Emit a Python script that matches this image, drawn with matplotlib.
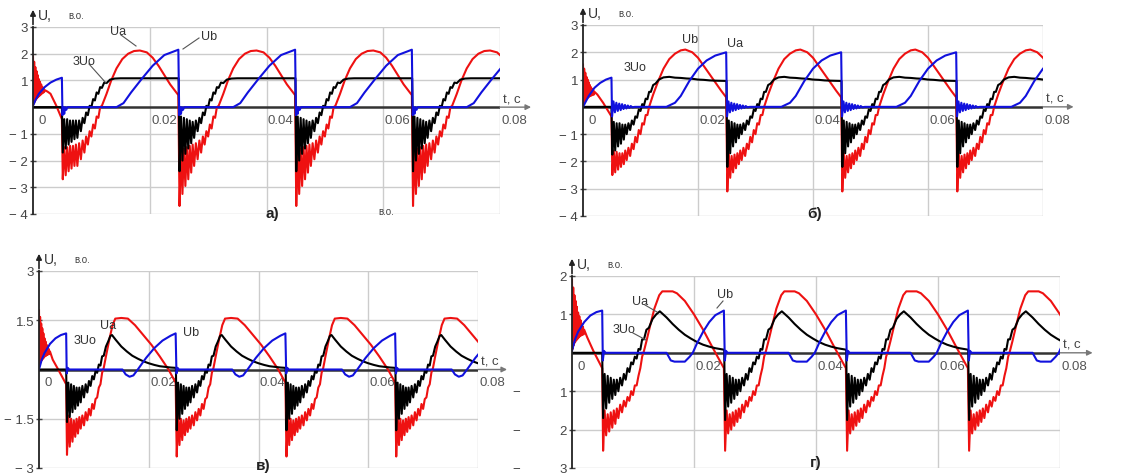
import numpy as np
import matplotlib.pyplot as plt
from matplotlib.lines import Line2D

plt.rcParams['font.family'] = ['Liberation Sans', 'DejaVu Sans']

W, H = 1125, 477

# switching instants (ms); each period is 20 ms long
DROPS_MS = [5.0, 25.0, 45.0, 65.0]
# times (ms after a switching) of the oscillation tips: low, high, low, high ...
TIP_MS = [0.1, 0.35, 0.6, 0.85, 1.1, 1.35, 1.6, 1.85, 2.1, 2.35,
          2.6, 2.9, 3.2, 3.5, 3.8, 4.1, 4.4, 4.7, 5.0, 5.3]
# times (ms) of the initial high-frequency transient of Ua
START_MS = [0.0, 0.1, 0.2, 0.3, 0.4, 0.5, 0.6, 0.7, 0.8, 0.9, 1.0,
            1.1, 1.2, 1.3, 1.4, 1.5, 1.6, 1.7, 1.8, 1.9, 2.0]
BLK_START_MS = [0.0, 4.95]
BLK_START = [0.0, 0.0]
BLUE_START_MS = [0.0, 0.5, 1.0, 2.0, 3.0, 4.0, 4.95]

# ---------- panel а) ----------
A_RED_START = [1.9, 0.12, 1.7, 0.2, 1.5, 0.28, 1.35, 0.33, 1.2, 0.38, 1.05,
               0.42, 0.95, 0.46, 0.85, 0.5, 0.76, 0.53, 0.7, 0.56, 0.64]
A_RED_TAIL_MS = [2.5, 3.0, 4.0, 4.95]
A_RED_TAIL = [0.58, 0.5, 0.05, -0.45]
A_RED_DIP = [-3.7, -1.6, -3.25, -1.55, -2.95, -1.5, -2.7, -1.45, -2.45, -1.4,
             -2.2, -1.35, -1.95, -1.25, -1.7, -1.1, -1.4, -0.9, -1.1, -0.65]
A_RED_DIP_FIRST = [-2.7, -1.5, -2.55, -1.5, -2.4, -1.45, -2.3, -1.45, -2.2, -1.4]
A_RED_REST_MS = [5.6, 5.9, 6.2, 6.5, 6.8, 7.6, 8.4, 9.3, 10.3, 11.3, 12.3,
                 13.3, 14.5, 15.5, 16.5, 17.5, 18.5, 19.9]
A_RED_REST = [-0.8, -0.35, -0.4, 0.0, 0.05, 0.5, 1.0, 1.45, 1.8, 2.0, 2.1,
              2.12, 2.05, 1.85, 1.55, 1.2, 0.85, 0.45]
A_BLK_DIP = [-2.4, -0.35, -2.0, -0.4, -1.75, -0.45, -1.55, -0.5, -1.35, -0.55,
             -1.15, -0.5, -0.9, -0.4, -0.6, -0.2, -0.3, 0.05, 0.0, 0.3]
A_BLK_DIP_FIRST = [-1.7, -0.45, -1.55, -0.45, -1.4, -0.5, -1.3, -0.5, -1.2, -0.5]
A_BLK_REST_MS = [5.6, 5.9, 6.2, 6.5, 6.8, 7.2, 7.6, 8.2, 9.0, 10.0, 19.95]
A_BLK_REST = [0.25, 0.55, 0.5, 0.75, 0.72, 0.92, 0.9, 1.03, 1.07, 1.08, 1.08]
A_BLUE_START = [0.05, 0.3, 0.5, 0.75, 0.92, 1.03, 1.1]
A_BLUE_MS = [0.05, 0.2, 0.35, 0.5, 0.7, 0.9, 9.3, 10.5, 11.8, 13.6, 15.5, 17.5, 19.9]
A_BLUE = [-0.3, 0.0, -0.25, 0.0, -0.1, 0.0, 0.0, 0.15, 0.55, 1.05, 1.55, 1.95, 2.15]

# ---------- panel б) ----------
B_RED_START = [1.55, 0.1, 1.4, 0.18, 1.25, 0.25, 1.1, 0.3, 1.0, 0.34, 0.9,
               0.38, 0.8, 0.4, 0.72, 0.42, 0.65, 0.44, 0.6, 0.45, 0.55]
B_RED_TAIL_MS = [2.5, 3.5, 4.95]
B_RED_TAIL = [0.45, 0.15, -0.35]
B_RED_DIP = [-3.1, -1.7, -2.6, -1.8, -2.4, -1.75, -2.25, -1.7, -2.1, -1.6,
             -1.95, -1.5, -1.8, -1.35, -1.55, -1.1, -1.3, -0.85, -1.0, -0.6]
B_RED_DIP_FIRST = [-2.5, -1.6, -2.4, -1.65, -2.3, -1.7, -2.2, -1.7, -2.1, -1.6]
B_RED_REST_MS = [5.6, 5.9, 6.2, 6.5, 7.2, 8.0, 9.0, 10.0, 11.0, 12.0, 12.8,
                 14.0, 15.0, 16.0, 17.0, 18.0, 19.0, 19.9]
B_RED_REST = [-0.65, -0.3, -0.3, 0.0, 0.45, 0.9, 1.4, 1.75, 1.95, 2.07, 2.1,
              2.0, 1.8, 1.5, 1.2, 0.9, 0.6, 0.35]
B_BLK_DIP = [-2.2, -0.5, -1.7, -0.55, -1.45, -0.6, -1.3, -0.65, -1.15, -0.65,
             -1.0, -0.6, -0.85, -0.5, -0.65, -0.35, -0.4, -0.1, -0.15, 0.1]
B_BLK_DIP_FIRST = [-1.75, -0.55, -1.6, -0.6, -1.45, -0.6, -1.35, -0.65, -1.2, -0.65]
B_BLK_REST_MS = [5.6, 5.9, 6.2, 6.5, 6.8, 7.2, 7.6, 8.2, 9.0, 10.0, 11.0,
                 12.0, 13.0, 14.0, 15.0, 16.0, 17.0, 18.0, 19.95]
B_BLK_REST = [0.05, 0.3, 0.28, 0.55, 0.55, 0.8, 0.85, 1.0, 1.08, 1.1, 1.07,
              1.06, 1.04, 1.03, 1.0, 0.99, 0.97, 0.96, 0.95]
B_BLUE_START = [0.0, 0.2, 0.4, 0.7, 0.88, 1.0, 1.07]
B_BLUE_MS = [0.05, 0.3, 0.55, 0.8, 1.05, 1.3, 1.55, 1.8, 2.05, 2.3, 2.55, 2.8,
             3.05, 3.3, 3.6, 4.0, 9.5, 11.0, 12.0, 13.5, 15.0, 16.5, 18.0, 19.9]
B_BLUE = [-0.35, 0.2, -0.2, 0.15, -0.15, 0.12, -0.12, 0.1, -0.08, 0.07, -0.06,
          0.05, -0.04, 0.03, -0.02, 0.0, 0.0, 0.15, 0.4, 0.95, 1.4, 1.7, 1.88, 2.0]

# ---------- panel в) ----------
V_RED_START = [1.8, 0.15, 1.6, 0.22, 1.4, 0.28, 1.25, 0.32, 1.1, 0.36, 0.95,
               0.4, 0.85, 0.42, 0.75, 0.45, 0.68, 0.46, 0.62, 0.47, 0.55]
V_RED_TAIL_MS = [2.5, 3.5, 4.95]
V_RED_TAIL = [0.3, 0.0, -0.45]
V_RED_DIP = [-2.65, -1.35, -2.3, -1.5, -2.15, -1.55, -2.0, -1.5, -1.9, -1.45,
             -1.8, -1.4, -1.7, -1.3, -1.55, -1.2, -1.4, -1.05, -1.2, -0.9]
V_RED_DIP_FIRST = [-2.6, -1.4, -2.35, -1.5, -2.2, -1.55, -2.05, -1.5, -1.95, -1.45]
V_RED_REST_MS = [5.6, 5.9, 6.2, 6.5, 6.8, 7.2, 7.8, 8.4, 8.9, 10.0, 11.2,
                 12.5, 14.0, 15.5, 17.0, 18.6, 19.9]
V_RED_REST = [-0.85, -0.55, -0.45, -0.1, 0.05, 0.4, 0.9, 1.35, 1.55, 1.57, 1.55,
              1.35, 1.05, 0.75, 0.4, 0.0, -0.4]
V_BLK_DIP = [-1.85, -0.4, -1.5, -0.45, -1.35, -0.5, -1.2, -0.55, -1.1, -0.55,
             -1.0, -0.5, -0.85, -0.45, -0.7, -0.35, -0.5, -0.2, -0.3, -0.05]
V_BLK_DIP_FIRST = [-1.6, -0.4, -1.45, -0.45, -1.3, -0.5, -1.2, -0.55, -1.1, -0.55]
V_BLK_REST_MS = [5.6, 5.9, 6.2, 6.5, 6.8, 7.2, 7.6, 8.0, 8.3, 9.0, 10.0, 11.0,
                 12.0, 13.0, 14.0, 15.0, 16.0, 17.0, 18.0, 19.0, 19.95]
V_BLK_REST = [-0.1, 0.15, 0.12, 0.4, 0.42, 0.7, 0.85, 1.02, 1.05, 0.9, 0.7, 0.55,
              0.42, 0.33, 0.25, 0.19, 0.14, 0.1, 0.08, 0.06, 0.05]
V_BLUE_START = [0.0, 0.3, 0.5, 0.78, 0.95, 1.05, 1.1]
V_BLUE_MS = [0.05, 0.25, 0.5, 10.2, 10.8, 11.5, 12.2, 13.0, 14.5, 16.0, 17.5, 19.0, 19.9]
V_BLUE = [-0.12, 0.05, 0.0, 0.0, -0.15, -0.22, -0.18, 0.0, 0.35, 0.65, 0.88, 1.03, 1.1]

# ---------- panel г) ----------
G_RED_START = [1.9, 0.1, 1.7, 0.2, 1.5, 0.27, 1.35, 0.32, 1.2, 0.36, 1.05,
               0.4, 0.95, 0.43, 0.85, 0.45, 0.75, 0.47, 0.68, 0.48, 0.6]
G_RED_TAIL_MS = [2.5, 3.5, 4.95]
G_RED_TAIL = [0.4, 0.05, -0.4]
G_RED_DIP = [-2.55, -1.5, -2.1, -1.6, -2.0, -1.55, -1.9, -1.5, -1.8, -1.45,
             -1.7, -1.35, -1.55, -1.25, -1.4, -1.15, -1.25, -1.0, -1.1, -0.85]
G_RED_DIP_FIRST = [-2.55, -1.5, -2.15, -1.6, -2.05, -1.55, -1.95, -1.5, -1.85, -1.45]
G_RED_REST_MS = [5.6, 5.9, 6.2, 6.5, 6.8, 7.2, 7.8, 8.5, 9.3, 9.8, 11.5,
                 12.2, 13.5, 15.0, 16.5, 18.0, 19.9]
G_RED_REST = [-0.85, -0.6, -0.4, -0.1, 0.05, 0.3, 0.7, 1.15, 1.5, 1.6, 1.6,
              1.55, 1.35, 1.0, 0.6, 0.15, -0.4]
G_BLK_DIP = [-1.75, -0.55, -1.4, -0.6, -1.3, -0.65, -1.2, -0.7, -1.1, -0.7,
             -1.0, -0.65, -0.85, -0.55, -0.7, -0.4, -0.5, -0.25, -0.3, -0.1]
G_BLK_DIP_FIRST = [-1.7, -0.55, -1.45, -0.6, -1.3, -0.65, -1.2, -0.7, -1.1, -0.7]
G_BLK_REST_MS = [5.6, 5.9, 6.2, 6.5, 6.8, 7.2, 7.6, 8.2, 8.8, 9.4, 10.5, 11.5,
                 12.5, 13.5, 14.5, 15.5, 16.5, 17.5, 18.5, 19.95]
G_BLK_REST = [-0.15, 0.1, 0.08, 0.35, 0.35, 0.6, 0.65, 0.88, 1.0, 1.08, 0.92,
              0.75, 0.6, 0.47, 0.37, 0.28, 0.21, 0.16, 0.12, 0.08]
G_BLUE_START = [0.05, 0.35, 0.55, 0.8, 0.97, 1.06, 1.1]
G_BLUE_MS = [0.05, 0.25, 0.5, 10.5, 11.2, 11.8, 13.5, 14.3, 14.8, 15.5, 16.5, 17.5, 18.5, 19.9]
G_BLUE = [-0.2, 0.05, 0.0, 0.0, -0.2, -0.23, -0.23, -0.1, 0.0, 0.25, 0.55, 0.8, 0.98, 1.1]

X_TICKS = [0.0, 0.02, 0.04, 0.06, 0.08]
X_LABELS = ['0', '0.02', '0.04', '0.06', '0.08']


def build(start_ms, start_v, per_ms, per_v, per_v_first=None):
    t, v = list(start_ms), list(start_v)
    for i, d in enumerate(DROPS_MS):
        vals = per_v_first if (i == 0 and per_v_first is not None) else per_v
        t += [d + x for x in per_ms]
        v += list(vals)
    return np.array(t) / 1000.0, np.array(v)


def curves(red_start, red_tail_ms, red_tail, red_dip, red_first, red_rest_ms, red_rest,
           blk_dip, blk_first, blk_rest_ms, blk_rest, blue_start, blue_ms, blue):
    red = build(START_MS + red_tail_ms, red_start + red_tail, TIP_MS + red_rest_ms,
                red_dip + red_rest, red_first + red_dip[len(red_first):] + red_rest)
    blk = build(BLK_START_MS, BLK_START, TIP_MS + blk_rest_ms,
                blk_dip + blk_rest, blk_first + blk_dip[len(blk_first):] + blk_rest)
    blu = build(BLUE_START_MS, blue_start, blue_ms, blue)
    return red, blk, blu


def fx(x):
    return x / W


def fy(y):
    return 1 - y / H


fig = plt.figure(figsize=(W / 100, H / 100), dpi=100)
fig.patch.set_facecolor('white')

panels = [
    dict(rect=(33, 28, 500, 215), ylim=(-4, 3), yt=[3, 2, 1, -1, -2, -3, -4],
         yl=['3', '2', '1', '− 1', '− 2', '− 3', '− 4'],
         data=curves(A_RED_START, A_RED_TAIL_MS, A_RED_TAIL, A_RED_DIP, A_RED_DIP_FIRST,
                     A_RED_REST_MS, A_RED_REST, A_BLK_DIP, A_BLK_DIP_FIRST, A_BLK_REST_MS,
                     A_BLK_REST, A_BLUE_START, A_BLUE_MS, A_BLUE),
         letter=('а)', 272, 214),
         names=[('Ua', 110, 32), ('Ub', 201, 37), ('3Uo', 73, 62)],
         leaders=[((121, 36), (136, 47)), ((199, 39), (183, 50)), ((89, 65), (106, 84))]),
    dict(rect=(583, 26, 1043, 217), ylim=(-4, 3), yt=[3, 2, 1, -1, -2, -3, -4],
         yl=['3', '2', '1', '− 1', '− 2', '− 3', '− 4'],
         data=curves(B_RED_START, B_RED_TAIL_MS, B_RED_TAIL, B_RED_DIP, B_RED_DIP_FIRST,
                     B_RED_REST_MS, B_RED_REST, B_BLK_DIP, B_BLK_DIP_FIRST, B_BLK_REST_MS,
                     B_BLK_REST, B_BLUE_START, B_BLUE_MS, B_BLUE),
         letter=('б)', 815, 214),
         names=[('Ub', 682, 40), ('Ua', 727, 44), ('3Uo', 624, 68)],
         leaders=[]),
    dict(rect=(39, 272, 478, 469), ylim=(-3, 3), yt=[3, 1.5, -1.5, -3],
         yl=['3', '1.5', '− 1.5', '− 3'],
         data=curves(V_RED_START, V_RED_TAIL_MS, V_RED_TAIL, V_RED_DIP, V_RED_DIP_FIRST,
                     V_RED_REST_MS, V_RED_REST, V_BLK_DIP, V_BLK_DIP_FIRST, V_BLK_REST_MS,
                     V_BLK_REST, V_BLUE_START, V_BLUE_MS, V_BLUE),
         letter=('в)', 263, 466),
         names=[('Ua', 100, 326), ('3Uo', 74, 341), ('Ub', 183, 333)],
         leaders=[]),
    dict(rect=(572, 277, 1060, 469), ylim=(-3, 2), yt=[2, 1, -1, -2, -3],
         yl=['2', '1', '1', '2', '3'],
         data=curves(G_RED_START, G_RED_TAIL_MS, G_RED_TAIL, G_RED_DIP, G_RED_DIP_FIRST,
                     G_RED_REST_MS, G_RED_REST, G_BLK_DIP, G_BLK_DIP_FIRST, G_BLK_REST_MS,
                     G_BLK_REST, G_BLUE_START, G_BLUE_MS, G_BLUE),
         letter=('г)', 816, 463),
         names=[('Ua', 632, 302), ('Ub', 717, 295), ('3Uo', 613, 330)],
         leaders=[((645, 306), (657, 313)), ((723, 302), (717, 309)), ((633, 334), (646, 341))]),
]

for p in panels:
    l, t, r, b = p['rect']
    ax = fig.add_axes([fx(l), fy(b), (r - l) / W, (b - t) / H])
    ymin, ymax = p['ylim']
    ax.set_xlim(0, 0.08)
    ax.set_ylim(ymin, ymax)
    for s in ['top', 'right', 'bottom']:
        ax.spines[s].set_visible(False)
    ax.spines['left'].set_color('#222222')
    ax.spines['left'].set_linewidth(1.3)
    ax.spines['left'].set_zorder(6)
    ax.set_xticks([])
    ax.set_yticks(p['yt'])
    ax.set_yticklabels(p['yl'], fontsize=9.5, color='#444444')
    ax.tick_params(axis='y', direction='inout', length=5, width=1, pad=1, color='#444444')
    ax.patch.set_alpha(0)

    # grid box
    for gy in p['yt']:
        ax.axhline(gy, color='#cccccc', lw=1, zorder=0)
    for gx in X_TICKS[1:]:
        ax.axvline(gx, color='#cccccc', lw=1, zorder=0)

    # time axis with arrow
    ax.plot([0, 0.08], [0, 0], color='#333333', lw=1.8, zorder=1)
    ax.annotate('', xy=(0.0858, 0), xytext=(0.0795, 0), annotation_clip=False,
                arrowprops=dict(arrowstyle='-|>', color='#777777', lw=1, mutation_scale=8))
    ext = (ymax - ymin) * 20 / (b - t)
    ax.annotate('', xy=(0, ymax + ext), xytext=(0, ymax - 0.01), annotation_clip=False,
                arrowprops=dict(arrowstyle='-|>', color='#222222', lw=1.2, mutation_scale=8))

    for x, lab in zip(X_TICKS, X_LABELS):
        ax.annotate(lab, xy=(x, 0), xytext=(4 if x == 0 else 1, -5), textcoords='offset points',
                    ha='left', va='top', fontsize=9.5, color='#555555', annotation_clip=False)

    (rt, rv), (kt, kv), (bt, bv) = p['data']
    ax.plot(rt, rv, color='#ee1111', lw=1.5, zorder=3)
    ax.plot(kt, kv, color='#000000', lw=1.5, zorder=4)
    ax.plot(bt, bv, color='#1111dd', lw=1.5, zorder=5)

    # axis captions
    fig.text(fx(l + 5), fy(t - 12), 'U,', fontsize=10, color='#333333', va='center')
    fig.text(fx(l + 35), fy(t - 12), 'в.о.', fontsize=7, color='#444444', va='center')
    fig.text(fx(r + 3), fy(t + (b - t) * ymax / (ymax - ymin) - 8), 't, с',
             fontsize=9.5, color='#444444', va='center')

    lt, lx, ly = p['letter']
    fig.text(fx(lx), fy(ly), lt, fontsize=11, color='#222222', ha='center', va='center',
             fontweight='bold')
    for name, nx, ny in p['names']:
        fig.text(fx(nx), fy(ny), name, fontsize=9, color='#333333', va='center')
    for (x1, y1), (x2, y2) in p['leaders']:
        fig.add_artist(Line2D([fx(x1), fx(x2)], [fy(y1), fy(y2)], color='#555555', lw=0.8))

# stray caption in panel а) and detached minus signs of panel г)
fig.text(fx(378), fy(212), 'в.о.', fontsize=7, color='#444444', va='center')
for yy in [393, 432, 470]:
    fig.text(fx(512), fy(yy), '−', fontsize=9.5, color='#444444', va='center')

fig.savefig('out.png', dpi=100)
